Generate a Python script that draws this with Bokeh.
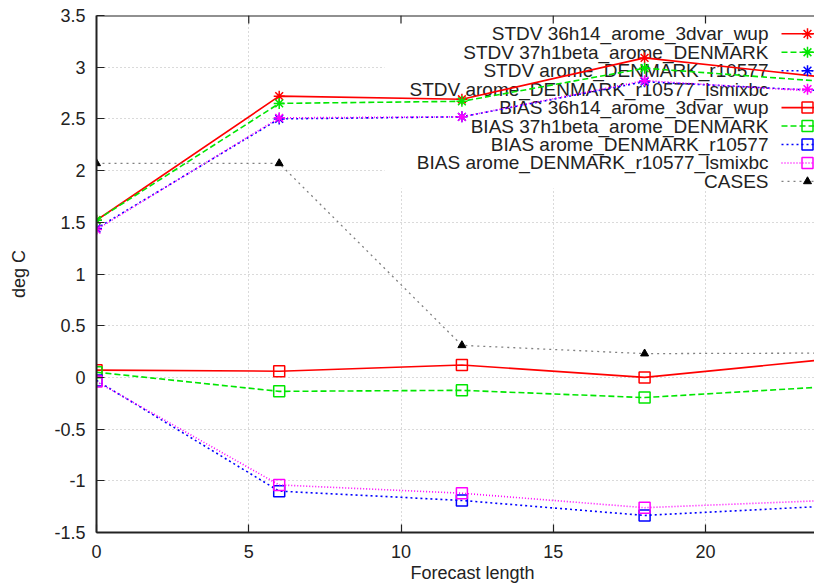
from bokeh.plotting import figure
from bokeh.models import Range1d, FixedTicker, CustomJSTickFormatter, BoxAnnotation, Span, Title
from bokeh.core.properties import value
from bokeh.embed import file_html
from bokeh.resources import INLINE

# Forecast lead times (hours)
lead = [0, 6, 12, 18, 24]

# Standard deviation of temperature error (deg C)
stdv_36h14 = [1.52, 2.72, 2.69, 3.09, 2.90]
stdv_37h1beta = [1.52, 2.65, 2.67, 2.99, 2.86]
stdv_r10577 = [1.44, 2.50, 2.52, 2.86, 2.77]
stdv_lsmixbc = [1.43, 2.51, 2.52, 2.87, 2.76]

# Mean bias of temperature (deg C)
bias_36h14 = [0.07, 0.06, 0.12, 0.00, 0.175]
bias_37h1beta = [0.05, -0.135, -0.125, -0.195, -0.09]
bias_r10577 = [-0.03, -1.10, -1.19, -1.335, -1.245]
bias_lsmixbc = [-0.04, -1.04, -1.12, -1.26, -1.19]

# Number of cases (scaled onto the temperature axis)
cases = [2.07, 2.07, 0.31, 0.23, 0.235]

legend_labels = [
    "STDV 36h14_arome_3dvar_wup",
    "STDV 37h1beta_arome_DENMARK",
    "STDV arome_DENMARK_r10577",
    "STDV arome_DENMARK_r10577_lsmixbc",
    "BIAS 36h14_arome_3dvar_wup",
    "BIAS 37h1beta_arome_DENMARK",
    "BIAS arome_DENMARK_r10577",
    "BIAS arome_DENMARK_r10577_lsmixbc",
    "CASES",
]
series_values = [stdv_36h14, stdv_37h1beta, stdv_r10577, stdv_lsmixbc,
                 bias_36h14, bias_37h1beta, bias_r10577, bias_lsmixbc, cases]

y_ticks = [-1.5, -1, -0.5, 0, 0.5, 1, 1.5, 2, 2.5, 3, 3.5]
x_ticks = [0, 5, 10, 15, 20]

# ---- styling ----
RED, GREEN, BLUE, MAGENTA = "#ff0000", "#00e600", "#0000ff", "#ff00ff"
styles = [
    dict(color=RED, dash="solid", marker="asterisk", width=1.6),
    dict(color=GREEN, dash="6 3", marker="asterisk", width=1.6),
    dict(color=BLUE, dash="2 3", marker="asterisk", width=1.6),
    dict(color=MAGENTA, dash="1 2", marker="asterisk", width=1.6),
    dict(color=RED, dash="solid", marker="square", width=1.6),
    dict(color=GREEN, dash="6 3", marker="square", width=1.6),
    dict(color=BLUE, dash="2 3", marker="square", width=1.6),
    dict(color=MAGENTA, dash="1 2", marker="square", width=1.6),
    dict(color="#808080", dash="2 4", marker="triangle", width=1.3),
]

FONT = "Liberation Sans"
TEXT = "#222222"
TICK_FS = "18px"
KEY_FS = "19px"
W, H = 814, 586
LEFT, TOP, BOTTOM = 96, 15, 54
FRAME_W, FRAME_H = W - LEFT, H - TOP - BOTTOM
PX_PER_X = 30.45
X_END = FRAME_W / PX_PER_X
Y_LO, Y_HI = -1.5, 3.5


def px_to_x(px):
    return (px - LEFT) / PX_PER_X


def px_to_y(py):
    return Y_HI - (py - TOP) * (Y_HI - Y_LO) / FRAME_H


p = figure(width=W, height=H, x_range=Range1d(0, X_END), y_range=Range1d(Y_LO, Y_HI),
           output_backend="svg", toolbar_location=None,
           min_border_left=LEFT, min_border_right=0, min_border_top=TOP,
           min_border_bottom=BOTTOM)
p.outline_line_color = None
p.background_fill_color = "white"

# axes: inward ticks, plain numbers
p.xaxis.ticker = FixedTicker(ticks=x_ticks)
p.yaxis.ticker = FixedTicker(ticks=y_ticks)
p.yaxis.formatter = CustomJSTickFormatter(code="return tick.toString();")
for ax in (p.xaxis[0], p.yaxis[0]):
    ax.major_tick_in = 8
    ax.major_tick_out = 0
    ax.minor_tick_in = 0
    ax.minor_tick_out = 0
    ax.axis_line_width = 2
    ax.axis_line_color = TEXT
    ax.major_tick_line_color = TEXT
    ax.major_tick_line_width = 1.2
    ax.major_label_text_font = FONT
    ax.major_label_text_font_size = TICK_FS
    ax.major_label_text_color = TEXT
p.xaxis.major_label_standoff = 12
p.yaxis.major_label_standoff = 11
p.yaxis.axis_label = "deg C"
p.yaxis.axis_label_text_font = FONT
p.yaxis.axis_label_text_font_size = TICK_FS
p.yaxis.axis_label_text_font_style = "normal"
p.yaxis.axis_label_text_color = TEXT
p.yaxis.axis_label_standoff = 22

# x-axis title, set a little right of the frame centre, at the bottom edge
x_title = Title(text="Forecast length", align="left", offset=314, standoff=0,
                vertical_align="bottom",
                text_font=FONT, text_font_size=TICK_FS, text_font_style="normal",
                text_color=TEXT)
p.add_layout(x_title, "below")

# top border with short inward ticks
p.add_layout(Span(location=Y_HI, dimension="width", line_color=TEXT, line_width=2))
tick_len = (Y_HI - Y_LO) * 8 / FRAME_H
p.segment(x0=x_ticks[1:], y0=[Y_HI] * 4, x1=x_ticks[1:], y1=[Y_HI - tick_len] * 4,
          line_color=TEXT, line_width=1.2)

p.grid.grid_line_color = "#b4b4b4"
p.grid.grid_line_dash = "1 3"
p.grid.grid_line_width = 1

# key area keeps the grid clear
p.add_layout(BoxAnnotation(left=px_to_x(384), bottom=px_to_y(188), fill_color="white",
                           fill_alpha=1.0, line_color=None, level="underlay"))

# key layout
KEY_TEXT_RIGHT = px_to_x(768)
KEY_LINE_START = px_to_x(781)
KEY_LINE_END = px_to_x(833)
KEY_MARK = px_to_x(807)
key_rows = [px_to_y(33.3 + 18.45 * i) for i in range(len(legend_labels))]

p.text(x=[KEY_TEXT_RIGHT] * len(legend_labels), y=key_rows, text=legend_labels,
       text_align="right", text_baseline="middle", text_font=value(FONT),
       text_font_size=KEY_FS, text_color=TEXT)

for vals, st, ky in zip(series_values, styles, key_rows):
    p.line(lead, vals, line_color=st["color"], line_dash=st["dash"], line_width=st["width"])
    p.line([KEY_LINE_START, KEY_LINE_END], [ky, ky], line_color=st["color"],
           line_dash=st["dash"], line_width=st["width"])
    if st["marker"] == "triangle":
        p.scatter(lead, vals, marker="triangle", size=8, fill_color="black", line_color="black")
        p.scatter([KEY_MARK], [ky], marker="triangle", size=8, fill_color="black", line_color="black")
    else:
        p.scatter(lead, vals, marker=st["marker"], size=11, fill_color=None,
                  line_color=st["color"], line_width=1.5)
        p.scatter([KEY_MARK], [ky], marker=st["marker"], size=11, fill_color=None,
                  line_color=st["color"], line_width=1.5)

open("out.html", "w").write(file_html(p, INLINE))
